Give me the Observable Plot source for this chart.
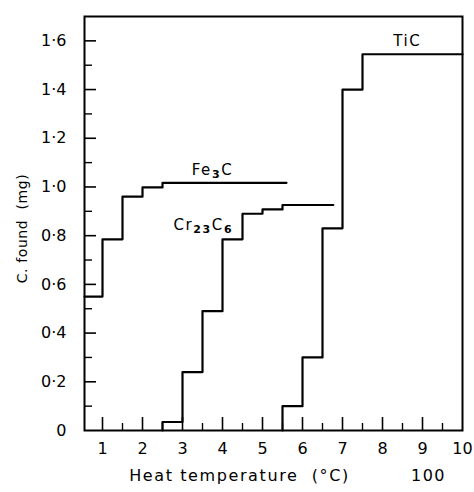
<!DOCTYPE html>
<html>
<head>
<meta charset="utf-8">
<script src="https://cdn.jsdelivr.net/npm/d3@7"></script>
<script src="https://cdn.jsdelivr.net/npm/@observablehq/plot@0.6"></script>
<style>
  html, body { margin: 0; padding: 0; background: #fff; }
  svg { display: block; }
</style>
</head>
<body>
<div id="chart"></div>
<script>
// Series (step-after: value holds from x until next x)
const fe3cX = [0.55, 1, 1.5, 2, 2.5, 5.6];
const fe3cY = [0.55, 0.785, 0.96, 0.998, 1.017, 1.017];

const cr23c6X = [2.5, 2.5, 3, 3.5, 4, 4.5, 5, 5.5, 6.77];
const cr23c6Y = [0, 0.035, 0.24, 0.49, 0.785, 0.89, 0.908, 0.926, 0.926];

const ticX = [5.5, 5.5, 6, 6.5, 7, 7.5, 10];
const ticY = [0, 0.1, 0.3, 0.83, 1.4, 1.545, 1.545];

// Series labels: plain text, plus parts (main / subscript) for rich rendering
const seriesLabels = [
  {x: 8.62, y: 1.6, text: "TiC", parts: [["TiC", false]]},
  {x: 3.75, y: 1.07, text: "Fe3C", parts: [["Fe", false], ["3", true], ["C", false]]},
  {x: 3.52, y: 0.845, text: "Cr23C6", parts: [["Cr", false], ["23", true], ["C", false], ["6", true]]}
];

const xTicks = [1, 2, 3, 4, 5, 6, 7, 8, 9, 10];
const xMinor = [1.5, 2.5, 3.5, 4.5, 5.5, 6.5, 7.5, 8.5, 9.5];
const yTicks = [0, 0.2, 0.4, 0.6, 0.8, 1.0, 1.2, 1.4, 1.6];
const yMinor = [0.1, 0.3, 0.5, 0.7, 0.9, 1.1, 1.3, 1.5];

const xLabel = "Heat temperature  (\u00B0C)";
const xUnitNote = "100";
const yLabel = "C. found  (mg)";

const toRows = (xs, ys) => xs.map((x, i) => ({x, y: ys[i]}));

const W = 474, H = 492;
const mL = 84, mR = 12, mT = 16, mB = 62;
const frameH = H - mT - mB;
const frameW = W - mL - mR;
const font = "DejaVu Sans, sans-serif";

const chart = Plot.plot({
  width: W,
  height: H,
  marginLeft: mL,
  marginRight: mR,
  marginTop: mT,
  marginBottom: mB,
  style: {fontFamily: font, background: "#fff", color: "#000"},
  x: {domain: [0.55, 10]},
  y: {domain: [0, 1.7]},
  marks: [
    Plot.frame({stroke: "#000", strokeWidth: 2}),
    // major/minor ticks pointing inwards
    Plot.tickX(xTicks.slice(0, 9), {x: d => d, insetTop: frameH - 13, stroke: "#000", strokeWidth: 1.6}),
    Plot.tickX(xMinor, {x: d => d, insetTop: frameH - 7, stroke: "#000", strokeWidth: 1.4}),
    Plot.tickY(yTicks.slice(1), {y: d => d, insetRight: frameW - 12, stroke: "#000", strokeWidth: 1.6}),
    Plot.tickY(yMinor, {y: d => d, insetRight: frameW - 8, stroke: "#000", strokeWidth: 1.4}),
    Plot.axisX({ticks: xTicks, tickSize: 0, tickPadding: 12, fontSize: 16, label: null, tickFormat: d => String(d)}),
    Plot.axisY({ticks: yTicks, tickSize: 0, tickPadding: 18, fontSize: 16, label: null,
      tickFormat: d => d === 0 ? "0" : d.toFixed(1).replace(".", "\u00B7")}),
    Plot.line(toRows(fe3cX, fe3cY), {x: "x", y: "y", curve: "step-after", stroke: "#000", strokeWidth: 2.2}),
    Plot.line(toRows(cr23c6X, cr23c6Y), {x: "x", y: "y", curve: "step-after", stroke: "#000", strokeWidth: 2.2}),
    Plot.line(toRows(ticX, ticY), {x: "x", y: "y", curve: "step-after", stroke: "#000", strokeWidth: 2.2}),
    Plot.text(seriesLabels, {x: "x", y: "y", text: "text", fontSize: 15, fill: "#000"}),
    Plot.text([xLabel], {frameAnchor: "bottom", dx: -34, dy: 50, fontSize: 16, text: d => d, fill: "#000"}),
    Plot.text([xUnitNote], {frameAnchor: "bottom-right", dx: -34, dy: 50, fontSize: 16, text: d => d, fill: "#000", textAnchor: "middle"}),
    Plot.text([yLabel], {frameAnchor: "left", dx: -62, dy: 5, rotate: -90, textAnchor: "middle", fontSize: 14, text: d => d, fill: "#000"})
  ]
});

const svg = d3.select(chart);
// letter spacing to mimic the wide lettering of the original
svg.selectAll("text").filter(function() { return this.textContent === xLabel; })
  .style("letter-spacing", "1.6px");
svg.selectAll("text").filter(function() { return this.textContent === xUnitNote; })
  .style("letter-spacing", "1.5px");
svg.selectAll("text").filter(function() { return this.textContent === yLabel; })
  .style("letter-spacing", "0.6px");

// rich series labels with real subscripts
seriesLabels.forEach(lab => {
  svg.selectAll("text").filter(function() { return this.textContent === lab.text && this.children.length === 0; })
    .each(function() {
      const t = d3.select(this);
      t.text(null).style("letter-spacing", "1.6px");
      let shifted = false;
      lab.parts.forEach(([s, sub]) => {
        const ts = t.append("tspan").text(s);
        if (sub && !shifted) { ts.attr("dy", "0.3em").attr("font-size", 11).attr("font-weight", "bold"); shifted = true; }
        else if (sub) { ts.attr("font-size", 11).attr("font-weight", "bold"); }
        else if (!sub && shifted) { ts.attr("dy", "-0.3em"); shifted = false; }
      });
    });
});
// Fix: subscript dy for each subscript after a main part
svg.selectAll("tspan").each(function() {
  const el = d3.select(this);
  if (el.attr("font-size") === "11") {
    el.attr("dy", "3"); // drop below baseline
  } else if (this.previousSibling && d3.select(this.previousSibling).attr("font-size") === "11") {
    el.attr("dy", "-3"); // restore baseline
  } else {
    el.attr("dy", null);
  }
});

document.getElementById("chart").appendChild(chart);
</script>
</body>
</html>
